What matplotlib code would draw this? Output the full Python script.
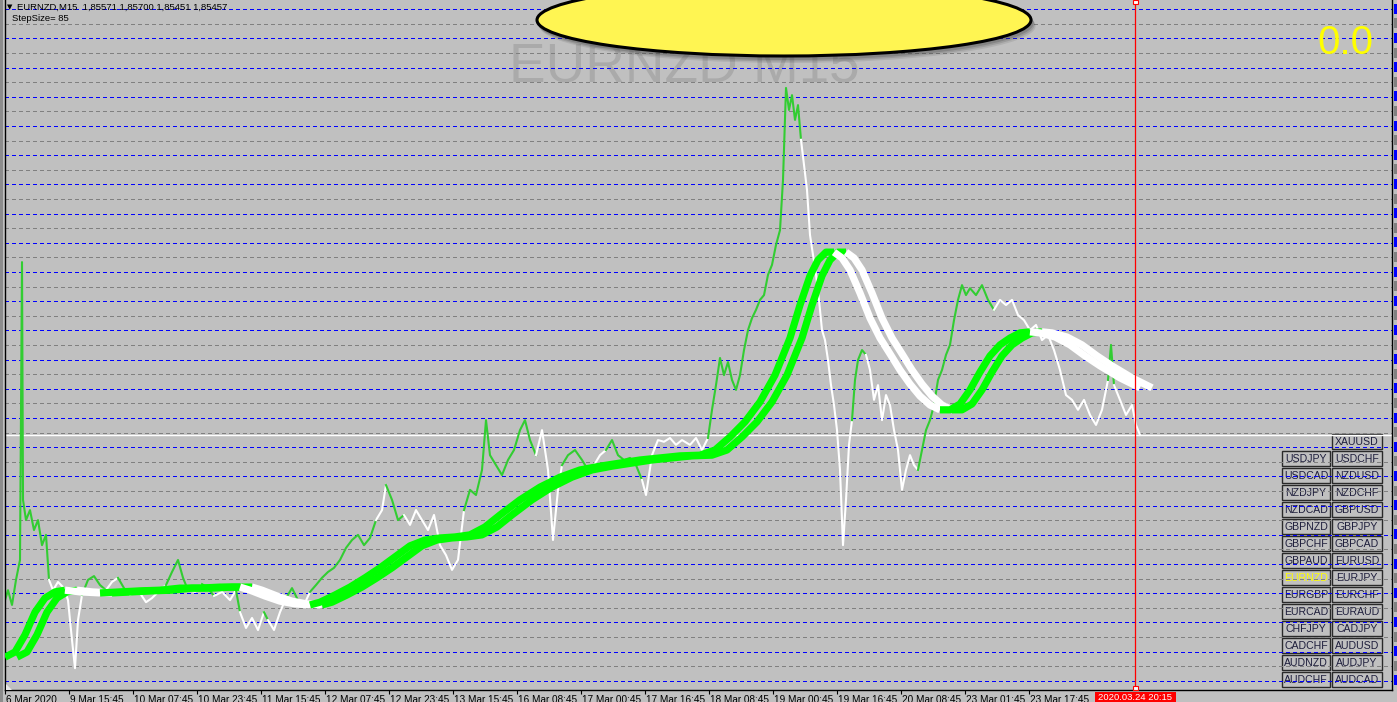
import matplotlib
matplotlib.use("Agg")
import matplotlib.pyplot as plt
import matplotlib.transforms as mtransforms
from matplotlib.patches import Ellipse, Rectangle, Polygon

W, H = 1397, 702
BG = "#c0c0c0"

# price line: M15 bar index and price
PRICE_BARS = [0, 3, 7, 11, 15, 17, 18, 21, 25, 29, 33, 37, 41, 44, 48, 53, 59, 63, 67, 70,
              73, 77, 83, 89, 95, 101, 107, 113, 119, 125, 133, 141, 147, 155, 161, 167, 173, 178, 183, 190,
              197, 203, 209, 217, 225, 231, 235, 241, 247, 253, 259, 263, 269, 275, 281, 287, 293, 299, 305, 311,
              317, 323, 329, 335, 341, 347, 353, 359, 365, 371, 377, 381, 387, 393, 399, 405, 411, 417, 423, 429,
              435, 441, 447, 453, 459, 465, 471, 477, 481, 485, 491, 497, 503, 509, 515, 520, 525, 531, 537, 543,
              548, 553, 557, 563, 570, 577, 583, 589, 595, 601, 607, 613, 619, 625, 631, 637, 641, 647, 653, 659,
              665, 671, 677, 685, 691, 697, 703, 707, 711, 715, 719, 723, 727, 731, 735, 739, 743, 747, 751, 755,
              759, 763, 767, 771, 775, 778, 781, 784, 787, 790, 793, 796, 799, 802, 805, 808, 811, 814, 817, 820,
              823, 826, 829, 832, 835, 838, 841, 844, 847, 850, 853, 857, 861, 865, 869, 873, 877, 881, 885, 889,
              893, 897, 901, 905, 909, 913, 917, 921, 925, 929, 933, 937, 941, 945, 949, 953, 957, 961, 965, 971,
              977, 983, 989, 995, 1001, 1007, 1013, 1019, 1025, 1031, 1037, 1043, 1049, 1055, 1061, 1067, 1073, 1079, 1085, 1091,
              1097, 1103, 1106, 1109, 1115, 1121, 1127, 1131, 1135]
PRICE_VALS = [1.8065, 1.8094, 1.8051, 1.8124, 1.8182, 1.9049, 1.8357, 1.8298, 1.8327, 1.8269,
              1.8298, 1.8225, 1.8255, 1.8124, 1.8094, 1.8118, 1.8100, 1.8065, 1.7949, 1.7867,
              1.8007, 1.8080, 1.8124, 1.8135, 1.8109, 1.8094, 1.8118, 1.8130, 1.8100, 1.8080,
              1.8094, 1.8059, 1.8071, 1.8094, 1.8109, 1.8147, 1.8182, 1.8130, 1.8094, 1.8089,
              1.8112, 1.8100, 1.8077, 1.8089, 1.8065, 1.8094, 1.8030, 1.7984, 1.8013, 1.7978,
              1.8030, 1.8007, 1.7978, 1.8030, 1.8071, 1.8100, 1.8065, 1.8051, 1.8089, 1.8109,
              1.8130, 1.8147, 1.8159, 1.8182, 1.8217, 1.8240, 1.8255, 1.8225, 1.8246, 1.8298,
              1.8327, 1.8400, 1.8357, 1.8298, 1.8313, 1.8284, 1.8327, 1.8298, 1.8269, 1.8313,
              1.8225, 1.8196, 1.8153, 1.8182, 1.8327, 1.8386, 1.8371, 1.8444, 1.8589, 1.8487,
              1.8458, 1.8429, 1.8473, 1.8502, 1.8560, 1.8589, 1.8531, 1.8487, 1.8560, 1.8444,
              1.8240, 1.8386, 1.8458, 1.8487, 1.8502, 1.8473, 1.8444, 1.8458, 1.8487, 1.8502,
              1.8531, 1.8487, 1.8473, 1.8479, 1.8458, 1.8415, 1.8371, 1.8487, 1.8531, 1.8526,
              1.8537, 1.8517, 1.8531, 1.8517, 1.8537, 1.8502, 1.8537, 1.8619, 1.8691, 1.8770,
              1.8720, 1.8758, 1.8706, 1.8677, 1.8720, 1.8793, 1.8851, 1.8886, 1.8910, 1.8939,
              1.8953, 1.9012, 1.9041, 1.9099, 1.9142, 1.9288, 1.9556, 1.9492, 1.9535, 1.9463,
              1.9506, 1.9405, 1.9332, 1.9259, 1.9128, 1.9070, 1.9012, 1.8939, 1.8851, 1.8822,
              1.8764, 1.8691, 1.8633, 1.8560, 1.8444, 1.8225, 1.8357, 1.8517, 1.8589, 1.8706,
              1.8764, 1.8793, 1.8779, 1.8735, 1.8648, 1.8691, 1.8589, 1.8662, 1.8633, 1.8560,
              1.8502, 1.8386, 1.8444, 1.8487, 1.8458, 1.8444, 1.8502, 1.8560, 1.8589, 1.8633,
              1.8706, 1.8735, 1.8779, 1.8808, 1.8880, 1.8939, 1.8982, 1.8953, 1.8973, 1.8953,
              1.8982, 1.8939, 1.8910, 1.8939, 1.8924, 1.8939, 1.8895, 1.8880, 1.8851, 1.8866,
              1.8822, 1.8837, 1.8793, 1.8735, 1.8662, 1.8648, 1.8619, 1.8648, 1.8604, 1.8575,
              1.8619, 1.8706, 1.8808, 1.8691, 1.8648, 1.8604, 1.8633, 1.8575, 1.8546]
# bar ranges where the price line is drawn white (green elsewhere)
PRICE_WHITE_SPANS = [(44, 77), (101, 113), (125, 161), (183, 197), (209, 231), (235, 259),
                     (263, 281), (299, 305), (371, 381), (399, 459), (531, 557), (583, 601),
                     (637, 703), (796, 847), (861, 913), (989, 1103), (1109, 1136)]

# moving average (bar index, price); drawn twice, the second copy shifted
MA_BARS = [0, 10, 20, 30, 40, 50, 60, 75, 95, 115, 135, 155, 175, 195, 215, 235, 245, 260, 275, 290,
           305, 315, 330, 345, 360, 375, 390, 405, 420, 435, 450, 465, 480, 495, 515, 535, 555, 575, 595, 615,
           635, 655, 675, 695, 710, 725, 740, 755, 770, 785, 795, 805, 813, 821, 829, 837, 845, 855, 865, 875,
           885, 895, 905, 915, 925, 935, 945, 955, 965, 975, 985, 995, 1005, 1015, 1025, 1035, 1050, 1065, 1080, 1095,
           1115, 1135]
MA_VALS = [1.7899, 1.7914, 1.7964, 1.8030, 1.8071, 1.8089, 1.8094, 1.8089, 1.8086, 1.8089,
           1.8092, 1.8094, 1.8100, 1.8100, 1.8103, 1.8103, 1.8094, 1.8077, 1.8062, 1.8054,
           1.8051, 1.8059, 1.8080, 1.8103, 1.8130, 1.8159, 1.8191, 1.8223, 1.8240, 1.8246,
           1.8249, 1.8255, 1.8278, 1.8313, 1.8357, 1.8394, 1.8423, 1.8444, 1.8455, 1.8464,
           1.8473, 1.8479, 1.8485, 1.8487, 1.8502, 1.8540, 1.8584, 1.8642, 1.8720, 1.8828,
           1.8924, 1.9009, 1.9055, 1.9078, 1.9078, 1.9061, 1.9026, 1.8959, 1.8886, 1.8828,
           1.8782, 1.8735, 1.8694, 1.8659, 1.8633, 1.8619, 1.8619, 1.8636, 1.8677, 1.8729,
           1.8776, 1.8808, 1.8828, 1.8843, 1.8846, 1.8843, 1.8831, 1.8808, 1.8776, 1.8747,
           1.8712, 1.8683]
MA_SHIFT = 12

X_TICK_LABELS = ["6 Mar 2020", "9 Mar 15:45", "10 Mar 07:45", "10 Mar 23:45", "11 Mar 15:45",
                 "12 Mar 07:45", "12 Mar 23:45", "13 Mar 15:45", "16 Mar 08:45", "17 Mar 00:45",
                 "17 Mar 16:45", "18 Mar 08:45", "19 Mar 00:45", "19 Mar 16:45", "20 Mar 08:45",
                 "23 Mar 01:45", "23 Mar 17:45"]
BARS_PER_LABEL = 64

BID = 1.85457
VLINE_BAR = 1130
GRID_TOP = 1.9785
STEP = 0.0085
N_LEVELS = 24

BUTTONS_LEFT = [None, "USDJPY", "USDCAD", "NZDJPY", "NZDCAD", "GBPNZD", "GBPCHF", "GBPAUD",
                "EURNZD", "EURGBP", "EURCAD", "CHFJPY", "CADCHF", "AUDNZD", "AUDCHF"]
BUTTONS_RIGHT = ["XAUUSD", "USDCHF", "NZDUSD", "NZDCHF", "GBPUSD", "GBPJPY", "GBPCAD", "EURUSD",
                 "EURJPY", "EURCHF", "EURAUD", "CADJPY", "AUDUSD", "AUDJPY", "AUDCAD"]

FONT = ["Liberation Sans", "DejaVu Sans"]
plt.rcParams["font.family"] = FONT


def runs(xs, ys, cols):
    start = 0
    n = len(xs)
    for i in range(1, n):
        if cols[i] != cols[start] or i == n - 1:
            yield xs[start:i + 1], ys[start:i + 1], cols[start]
            start = i


fig = plt.figure(figsize=(W / 100, H / 100), dpi=100, facecolor=BG)
ax = fig.add_axes([5 / W, 12 / H, 1387 / W, 690 / H])
ax.set_facecolor(BG)
ax.set_xlim(0, 1387)
ax.set_ylim(1.9812 - 690 * 0.0002911, 1.9812)

# pixel coordinates of the screenshot (origin top-left)
pix = mtransforms.Affine2D().scale(1 / W, -1 / H).translate(0, 1) + fig.transFigure

# watermark
ax.text(684, 82, "EURNZD M15", transform=pix, ha="center", va="baseline",
        fontsize=39.5, color="#aaaaaa", zorder=0.5)

# step grid
blue_levels = [GRID_TOP - STEP * k for k in range(N_LEVELS)]
gray_levels = [lv - STEP / 2 for lv in blue_levels[:-1]]
for lv in blue_levels:
    ax.axhline(lv, color="#0000ff", lw=0.8, ls=(0, (3.5, 3)), zorder=1, antialiased=False)
for lv in gray_levels:
    ax.axhline(lv, color="#808080", lw=0.8, ls=(0, (3.5, 3)), zorder=1, antialiased=False)
ax.axhline(BID, color="white", lw=1.0, zorder=1.5)

# symbol buttons
for r, (left, right) in enumerate(zip(BUTTONS_LEFT, BUTTONS_RIGHT)):
    top = 434 + 17 * r
    for x0, w, name in ((1282, 48, left), (1332, 50, right)):
        if name is None:
            continue
        ax.add_patch(Rectangle((x0, top), w, 14.5, transform=pix, facecolor=BG,
                               edgecolor="#2a2a2a", lw=1.0, zorder=0.8, clip_on=False))
        ax.text(x0 + w / 2, top + 7.6, name, transform=pix, ha="center", va="center",
                fontsize=7.6, color="#ffff00" if name == "EURNZD" else "#1e1e3c",
                zorder=0.9, clip_on=False)

# price line
price_cols = ["w" if any(s <= b < e for s, e in PRICE_WHITE_SPANS) else "g" for b in PRICE_BARS]
for xs, ys, c in runs(PRICE_BARS, PRICE_VALS, price_cols):
    ax.plot(xs, ys, color="#32cd32" if c == "g" else "white", lw=1.5, zorder=2)

# moving average, coloured by slope
ma_cols = ["g" if MA_VALS[i + 1] >= MA_VALS[i] else "w" for i in range(len(MA_VALS) - 1)]
ma_cols.append(ma_cols[-1])
for shift in (MA_SHIFT, 0):
    xs_all = [b + shift for b in MA_BARS]
    for xs, ys, c in runs(xs_all, MA_VALS, ma_cols):
        ax.plot(xs, ys, color="#00ff00" if c == "g" else "white", lw=5.2, zorder=3,
                solid_capstyle="butt")

# vertical time line
ax.axvline(VLINE_BAR, color="#ff0000", lw=0.9, zorder=3.5)
for ytop in (0, 686):
    ax.add_patch(Rectangle((1133, ytop), 5, 4, transform=pix, facecolor="white",
                           edgecolor="#ff0000", lw=0.8, zorder=6, clip_on=False))

# axes frame and time scale
ax.spines["top"].set_visible(False)
for side in ("left", "right", "bottom"):
    ax.spines[side].set_color("black")
    ax.spines[side].set_linewidth(1.0)
ax.set_yticks([])
ax.set_xticks([BARS_PER_LABEL * i for i in range(len(X_TICK_LABELS))])
ax.set_xticklabels(X_TICK_LABELS)
ax.tick_params(axis="x", direction="out", length=3, width=0.8, pad=0.3,
               labelsize=7.2, colors="black")
shift_right = mtransforms.ScaledTranslation(1.5 / 100, 0, fig.dpi_scale_trans)
for lab in ax.get_xticklabels():
    lab.set_ha("left")
    lab.set_transform(lab.get_transform() + shift_right)

# red time label on the scale
ax.add_patch(Rectangle((1095, 691.5), 81, 11, transform=pix, facecolor="#ff0000",
                       edgecolor="none", zorder=6, clip_on=False))
ax.text(1098, 692.5, "2020.03.24 20:15", transform=pix, ha="left", va="top",
        fontsize=6.8, color="white", zorder=7, clip_on=False)

# price scale remnants on the right edge
edge = mtransforms.blended_transform_factory(pix, ax.transData)
for lv in blue_levels:
    ax.add_patch(Rectangle((1393.5, lv - 0.0013), 4, 0.0029, transform=edge,
                           facecolor="#0000ff", edgecolor="none", zorder=6, clip_on=False))
for lv in gray_levels:
    ax.add_patch(Rectangle((1393.5, lv - 0.0013), 4, 0.0029, transform=edge,
                           facecolor="#808080", edgecolor="none", zorder=6, clip_on=False))

# left window border and shift marker
ax.add_patch(Rectangle((0, 0), 2.5, H, transform=pix, facecolor="#8c8c8c",
                       edgecolor="none", zorder=6, clip_on=False))
ax.add_patch(Polygon([(6, 684), (6, 690), (12, 690)], closed=True, transform=pix,
                     facecolor="#e8e8e8", edgecolor="none", zorder=6, clip_on=False))

# yellow ellipse with soft shadow
for off, a in ((6, 0.12), (4.5, 0.18), (3, 0.25)):
    ax.add_patch(Ellipse((784 + off * 0.6, 20 + off), 496, 74, transform=pix,
                         facecolor="#404040", edgecolor="none", alpha=a, zorder=7, clip_on=False))
ax.add_patch(Ellipse((784, 20), 494, 72, transform=pix, facecolor="#fff552",
                     edgecolor="black", lw=2.2, zorder=8, clip_on=False))

# header texts
ax.text(7, 7, "\u25bc", transform=pix, ha="left", va="center", fontsize=5,
        family=["DejaVu Sans"], color="black", zorder=9, clip_on=False)
ax.text(17, 9.5, "EURNZD,M15  1,85571 1,85700 1,85451 1,85457", transform=pix,
        ha="left", va="baseline", fontsize=6.8, color="black", zorder=9, clip_on=False)
ax.text(12, 21, "StepSize= 85", transform=pix, ha="left", va="baseline",
        fontsize=6.8, color="black", zorder=9, clip_on=False)
ax.text(1317, 54, "0.0", transform=pix, ha="left", va="baseline", fontsize=29,
        color="#ffff00", zorder=9, clip_on=False)

fig.savefig("out.png", dpi=100, facecolor=BG)
